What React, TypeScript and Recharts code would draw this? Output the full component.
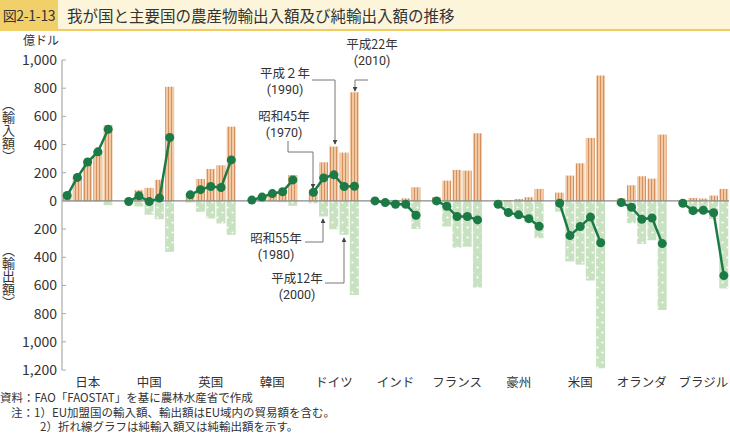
import {
  Bar,
  ComposedChart,
  Line,
  ReferenceLine,
  XAxis,
  YAxis,
} from "recharts";

const countries = [
  "日本",
  "中国",
  "英国",
  "韓国",
  "ドイツ",
  "インド",
  "フランス",
  "豪州",
  "米国",
  "オランダ",
  "ブラジル",
];
const years = [1970, 1980, 1990, 2000, 2010];

// 億ドル
const importValues = [
  [42, 172, 282, 354, 538],
  [4, 76, 93, 150, 810],
  [55, 156, 227, 253, 527],
  [8, 30, 58, 75, 184],
  [78, 274, 386, 343, 771],
  [2, 4, 3, 18, 97],
  [26, 144, 220, 215, 480],
  [3, 7, 14, 26, 85],
  [59, 180, 267, 447, 890],
  [17, 111, 175, 158, 471],
  [3, 21, 17, 38, 85],
];
const exportValues = [
  [-4, -5, -6, -6, -30],
  [-8, -40, -98, -130, -362],
  [-12, -78, -125, -160, -241],
  [-2, -3, -6, -10, -35],
  [-17, -111, -201, -241, -667],
  [-2, -16, -27, -42, -199],
  [-26, -182, -331, -326, -615],
  [-27, -90, -113, -154, -265],
  [-76, -430, -452, -565, -1187],
  [-29, -158, -305, -279, -774],
  [-20, -90, -85, -128, -622],
];
const netValues = [
  [38, 167, 276, 348, 508],
  [-4, 36, -5, 20, 450],
  [43, 80, 102, 95, 291],
  [6, 27, 52, 65, 149],
  [61, 163, 185, 102, 104],
  [0, -12, -24, -24, -102],
  [0, -38, -111, -111, -135],
  [-24, -83, -99, -126, -180],
  [-17, -246, -182, -115, -297],
  [-12, -45, -130, -121, -303],
  [-17, -69, -66, -84, -530],
];
const yTicks = [-1200, -1000, -800, -600, -400, -200, 0, 200, 400, 600, 800, 1000];

type Row = {
  key: string;
  country?: string;
  slot?: number;
  imp?: number | null;
  exp?: number | null;
  net?: number | null;
};

const rows: Row[] = [];
countries.forEach((c, i) => {
  years.forEach((y, j) => {
    rows.push({
      key: `${c}-${y}`,
      country: c,
      slot: j,
      imp: importValues[i][j],
      exp: exportValues[i][j],
      net: netValues[i][j],
    });
  });
  if (i < countries.length - 1) {
    rows.push({ key: `gap-${i}`, imp: null, exp: null, net: null });
  }
});

const FONT = '"Noto Sans CJK JP", "Noto Sans", sans-serif';
const TEXT = "#333";
const GREEN = "#1c7a46";

function YTick(props: any) {
  const { x, y, payload } = props;
  const v = Math.abs(payload.value).toLocaleString("en-US");
  return (
    <g>
      <line x1={x + 5} x2={x + 9} y1={y} y2={y} stroke="#aaa" />
      <text
        x={x}
        y={y}
        dy="0.36em"
        textAnchor="end"
        fontSize={14}
        fill={TEXT}
        fontFamily={FONT}
      >
        {v}
      </text>
    </g>
  );
}

function CountryTick(props: any) {
  const { x, y, index } = props;
  const row = rows[index];
  if (!row || row.slot !== 2) return null;
  return (
    <text
      x={x}
      y={y}
      dy="0.71em"
      textAnchor="middle"
      fontSize={12.5}
      fill={TEXT}
      fontFamily={FONT}
    >
      {row.country}
    </text>
  );
}

// era name on the first line, western year below it
function Callout({ era, year, x, y }: { era: string; year: string; x: number; y: number }) {
  return (
    <g>
      <text
        x={x}
        y={y}
        textAnchor="middle"
        fontSize={12.5}
        fill={TEXT}
        fontFamily={FONT}
      >
        {era}
      </text>
      <text
        x={x}
        y={y + 15.5}
        textAnchor="middle"
        fontSize={12.5}
        fill={TEXT}
        fontFamily="Roboto, sans-serif"
      >
        {year}
      </text>
    </g>
  );
}

export default function App() {
  return (
    <div
      style={{
        position: "fixed",
        left: 0,
        top: 0,
        width: 730,
        height: 437,
        background: "#fff",
        fontFamily: FONT,
        overflow: "hidden",
      }}
    >
      <svg width={0} height={0} style={{ position: "absolute" }}>
        <defs>
          <pattern
            id="impPat"
            width={3}
            height={4}
            patternUnits="userSpaceOnUse"
          >
            <rect width={3} height={4} fill="#f1c9a2" />
            <rect x={0} width={1} height={4} fill="#d69060" />
          </pattern>
          <pattern
            id="expPat"
            width={10}
            height={10}
            patternUnits="userSpaceOnUse"
          >
            <rect width={10} height={10} fill="#c8e1c1" />
            <circle cx={2.5} cy={2.5} r={1.1} fill="#fff" />
            <circle cx={7.5} cy={7.5} r={1.1} fill="#fff" />
          </pattern>
        </defs>
      </svg>

      {/* title */}
      <div
        style={{
          position: "absolute",
          left: 0,
          top: 0,
          width: 730,
          height: 29,
          background: "#fdf5da",
          borderBottom: "2px solid #efcd62",
        }}
      />
      <div
        style={{
          position: "absolute",
          left: 0,
          top: 0,
          width: 58,
          height: 31,
          background: "#f2d069",
          color: TEXT,
          fontSize: 14,
          letterSpacing: -0.3,
          lineHeight: "30px",
          textAlign: "center",
          whiteSpace: "nowrap",
          overflow: "hidden",
        }}
      >
        図2-1-13
      </div>
      <div
        style={{
          position: "absolute",
          left: 67,
          top: 0,
          height: 30,
          lineHeight: "30px",
          fontSize: 15.5,
          color: TEXT,
          whiteSpace: "nowrap",
        }}
      >
        我が国と主要国の農産物輸出入額及び純輸出入額の推移
      </div>

      <div
        style={{
          position: "absolute",
          left: 23,
          top: 33,
          fontSize: 12,
          lineHeight: "14px",
          color: TEXT,
          whiteSpace: "nowrap",
        }}
      >
        億ドル
      </div>
      <div
        style={{
          position: "absolute",
          left: 0,
          top: 98,
          writingMode: "vertical-rl",
          fontSize: 13,
          color: TEXT,
          lineHeight: "16px",
        }}
      >
        （輸入額）
      </div>
      <div
        style={{
          position: "absolute",
          left: 0,
          top: 244,
          writingMode: "vertical-rl",
          fontSize: 13,
          color: TEXT,
          lineHeight: "16px",
        }}
      >
        （輸出額）
      </div>

      <div style={{ position: "absolute", left: 0, top: 0 }}>
        <ComposedChart
          width={730}
          height={395}
          data={rows}
          stackOffset="sign"
          barCategoryGap={0.5}
          margin={{ top: 60, right: 1, bottom: 7, left: 0 }}
        >
          <XAxis
            dataKey="key"
            interval={0}
            axisLine={false}
            tickLine={false}
            height={18}
            tick={<CountryTick />}
          />
          <YAxis
            domain={[-1200, 1000]}
            ticks={yTicks}
            width={62}
            tickSize={3}
            tickMargin={2}
            tickLine={false}
            axisLine={{ stroke: "#999" }}
            allowDataOverflow
            tick={<YTick />}
          />
          <Bar
            dataKey="imp"
            stackId="a"
            fill="url(#impPat)"
            isAnimationActive={false}
          />
          <Bar
            dataKey="exp"
            stackId="a"
            fill="url(#expPat)"
            isAnimationActive={false}
          />
          <ReferenceLine y={0} stroke="#888" strokeWidth={1.2} />
          <Line
            dataKey="net"
            type="linear"
            stroke={GREEN}
            strokeWidth={2.5}
            dot={{ r: 4.5, fill: GREEN, stroke: GREEN, strokeWidth: 0 }}
            activeDot={false}
            connectNulls={false}
            isAnimationActive={false}
          />
        </ComposedChart>
      </div>

      {/* callouts for ドイツ */}
      <svg
        width={730}
        height={437}
        style={{ position: "absolute", left: 0, top: 0, pointerEvents: "none" }}
      >
        <defs>
          <marker
            id="arr"
            viewBox="0 0 6 6"
            refX={5}
            refY={3}
            markerWidth={5}
            markerHeight={5}
            orient="auto"
          >
            <path d="M0,0 L6,3 L0,6 z" fill="#444" />
          </marker>
        </defs>
        <g stroke="#777" strokeWidth={1} fill="none">
          <polyline points="368,80 355,80 355,91" markerEnd="url(#arr)" />
          <polyline points="312,80 335,80 335,144" markerEnd="url(#arr)" />
          <polyline points="288,141 288,152 313,152 313,188" markerEnd="url(#arr)" />
          <polyline points="305,242 323,242 323,219" markerEnd="url(#arr)" />
          <polyline points="325,283 344,283 344,238" markerEnd="url(#arr)" />
        </g>
        <Callout era="平成22年" year="(2010)" x={372} y={49} />
        <Callout era="平成２年" year="(1990)" x={285} y={78} />
        <Callout era="昭和45年" year="(1970)" x={284} y={121} />
        <Callout era="昭和55年" year="(1980)" x={276} y={243} />
        <Callout era="平成12年" year="(2000)" x={297} y={283} />
      </svg>

      <div
        style={{
          position: "absolute",
          left: 0,
          top: 390,
          fontSize: 11.5,
          lineHeight: "14.5px",
          color: TEXT,
          whiteSpace: "nowrap",
        }}
      >
        <div>資料：FAO「FAOSTAT」を基に農林水産省で作成</div>
        <div style={{ paddingLeft: 11 }}>
          注：1）EU加盟国の輸入額、輸出額はEU域内の貿易額を含む。
        </div>
        <div style={{ paddingLeft: 40 }}>
          2）折れ線グラフは純輸入額又は純輸出額を示す。
        </div>
      </div>
    </div>
  );
}
